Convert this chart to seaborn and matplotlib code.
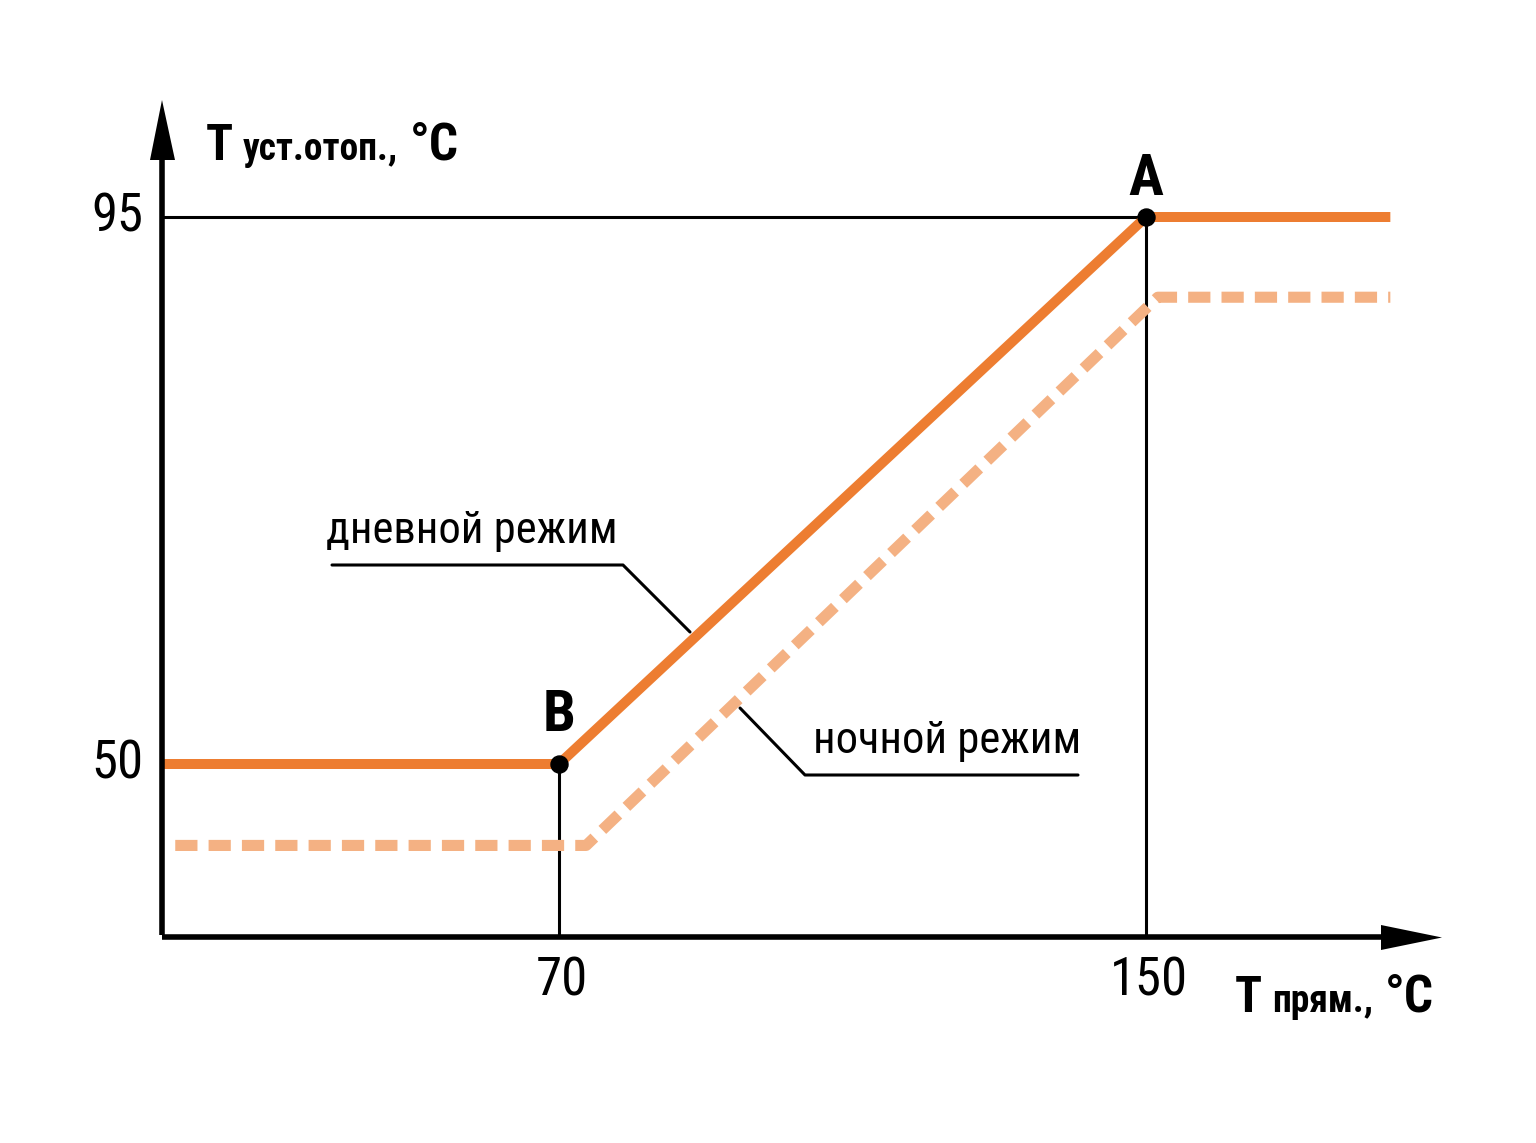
import matplotlib
matplotlib.use("Agg")
import matplotlib.pyplot as plt
import seaborn as sns
import pandas as pd

# ---- data ----
day_x = [15.9, 70, 150, 183.3]
day_y = [50, 50, 95, 95]
night_x = [17.7, 73.7, 151.6, 183.3]
night_y = [43.3, 43.3, 88.4, 88.4]
x_ticks = [70, 150]
y_ticks = [50, 95]
point_A = (150, 95)
point_B = (70, 50)

W, H = 1536, 1143
sns.set_theme(style="white")
FONT = ['Roboto Condensed', 'DejaVu Sans']
plt.rcParams['font.family'] = FONT
plt.rcParams['text.color'] = 'black'

fig = plt.figure(figsize=(W / 100, H / 100), dpi=100)
ax = fig.add_axes([0, 0, 1, 1])

sx = 587 / 80.0
x0 = 559 - 70 * sx
sy = 547 / 45.0
def px2x(px):
    return (px - x0) / sx
def py2y(py):
    return 50 + (764 - py) / sy

ax.set_xlim(px2x(0), px2x(W))
ax.set_ylim(py2y(H), py2y(0))
ax.axis('off')

DAY = '#ED7D31'
NIGHT = '#F4B183'

x_axis_x = px2x(162)
y_axis_y = py2y(937)

ax.plot([x_axis_x, point_A[0]], [point_A[1], point_A[1]], color='black', lw=2.2, zorder=2)
ax.plot([point_B[0], point_B[0]], [y_axis_y, point_B[1]], color='black', lw=2.2, zorder=2)
ax.plot([point_A[0], point_A[0]], [y_axis_y, point_A[1]], color='black', lw=2.2, zorder=2)

df_day = pd.DataFrame({'x': day_x, 'y': day_y})
df_night = pd.DataFrame({'x': night_x, 'y': night_y})
sns.lineplot(data=df_night, x='x', y='y', ax=ax, color=NIGHT, lw=8, estimator=None, sort=False)
ln = ax.lines[-1]
ln.set_dashes((2.0, 1.0))
ln.set_dash_capstyle('butt')
ln.set_zorder(3)
sns.lineplot(data=df_day, x='x', y='y', ax=ax, color=DAY, lw=7.2, estimator=None, sort=False)
ax.lines[-1].set_zorder(4)
ax.lines[-1].set_solid_joinstyle('miter')
ax.lines[-1].set_solid_capstyle('butt')

ax.scatter([point_A[0], point_B[0]], [point_A[1], point_B[1]], s=150, color='black', zorder=6)

ax.plot([x_axis_x, px2x(1390)], [y_axis_y, y_axis_y], color='black', lw=4, zorder=5, solid_capstyle='butt')
ax.plot([x_axis_x, x_axis_x], [y_axis_y + 0.15, py2y(150)], color='black', lw=4, zorder=5, solid_capstyle='butt')
ax.fill([px2x(1381), px2x(1442), px2x(1381)], [py2y(925), py2y(937.5), py2y(950)], color='black', zorder=5, lw=0)
ax.fill([px2x(150), px2x(162), px2x(175)], [py2y(160), py2y(100), py2y(160)], color='black', zorder=5, lw=0)

for v in y_ticks:
    ax.text(px2x(143), v, str(v), ha='right', va='center', fontsize=38, color='black')
for v in x_ticks:
    ax.text(v + 0.4, py2y(955), str(v), ha='center', va='top', fontsize=38, color='black')

ax.text(point_A[0], py2y(195), 'A', ha='center', va='baseline', fontsize=42, fontweight='bold', color='black')
ax.text(point_B[0], py2y(731), 'B', ha='center', va='baseline', fontsize=42, fontweight='bold', color='black')

fig.canvas.draw()
renderer = fig.canvas.get_renderer()

def chain(px, py, parts):
    x = px
    for s, size, gap in parts:
        tx = ax.text(x / W, 1 - py / H, s, transform=ax.transAxes, ha='left', va='baseline',
                     fontsize=size, fontweight='bold', color='black')
        bb = tx.get_window_extent(renderer)
        x = bb.x1 + gap

chain(206, 160, [('T', 36, 10), ('уст.отоп.,', 27, 12), ('°C', 37, 0)])
chain(1235, 1012, [('T', 36, 10), ('прям.,', 27, 12), ('°C', 37, 0)])

ax.text(px2x(326), py2y(543), 'дневной режим', ha='left', va='baseline', fontsize=32, color='black')
ax.plot([px2x(332), px2x(623), px2x(690)], [py2y(565), py2y(565), py2y(632)], color='black', lw=2.2, zorder=2)
ax.text(px2x(813), py2y(753), 'ночной режим', ha='left', va='baseline', fontsize=32, color='black')
ax.plot([px2x(740), px2x(805), px2x(1078)], [py2y(708), py2y(775), py2y(775)], color='black', lw=2.2, zorder=2)

fig.savefig('out.png', dpi=100, facecolor='white')
